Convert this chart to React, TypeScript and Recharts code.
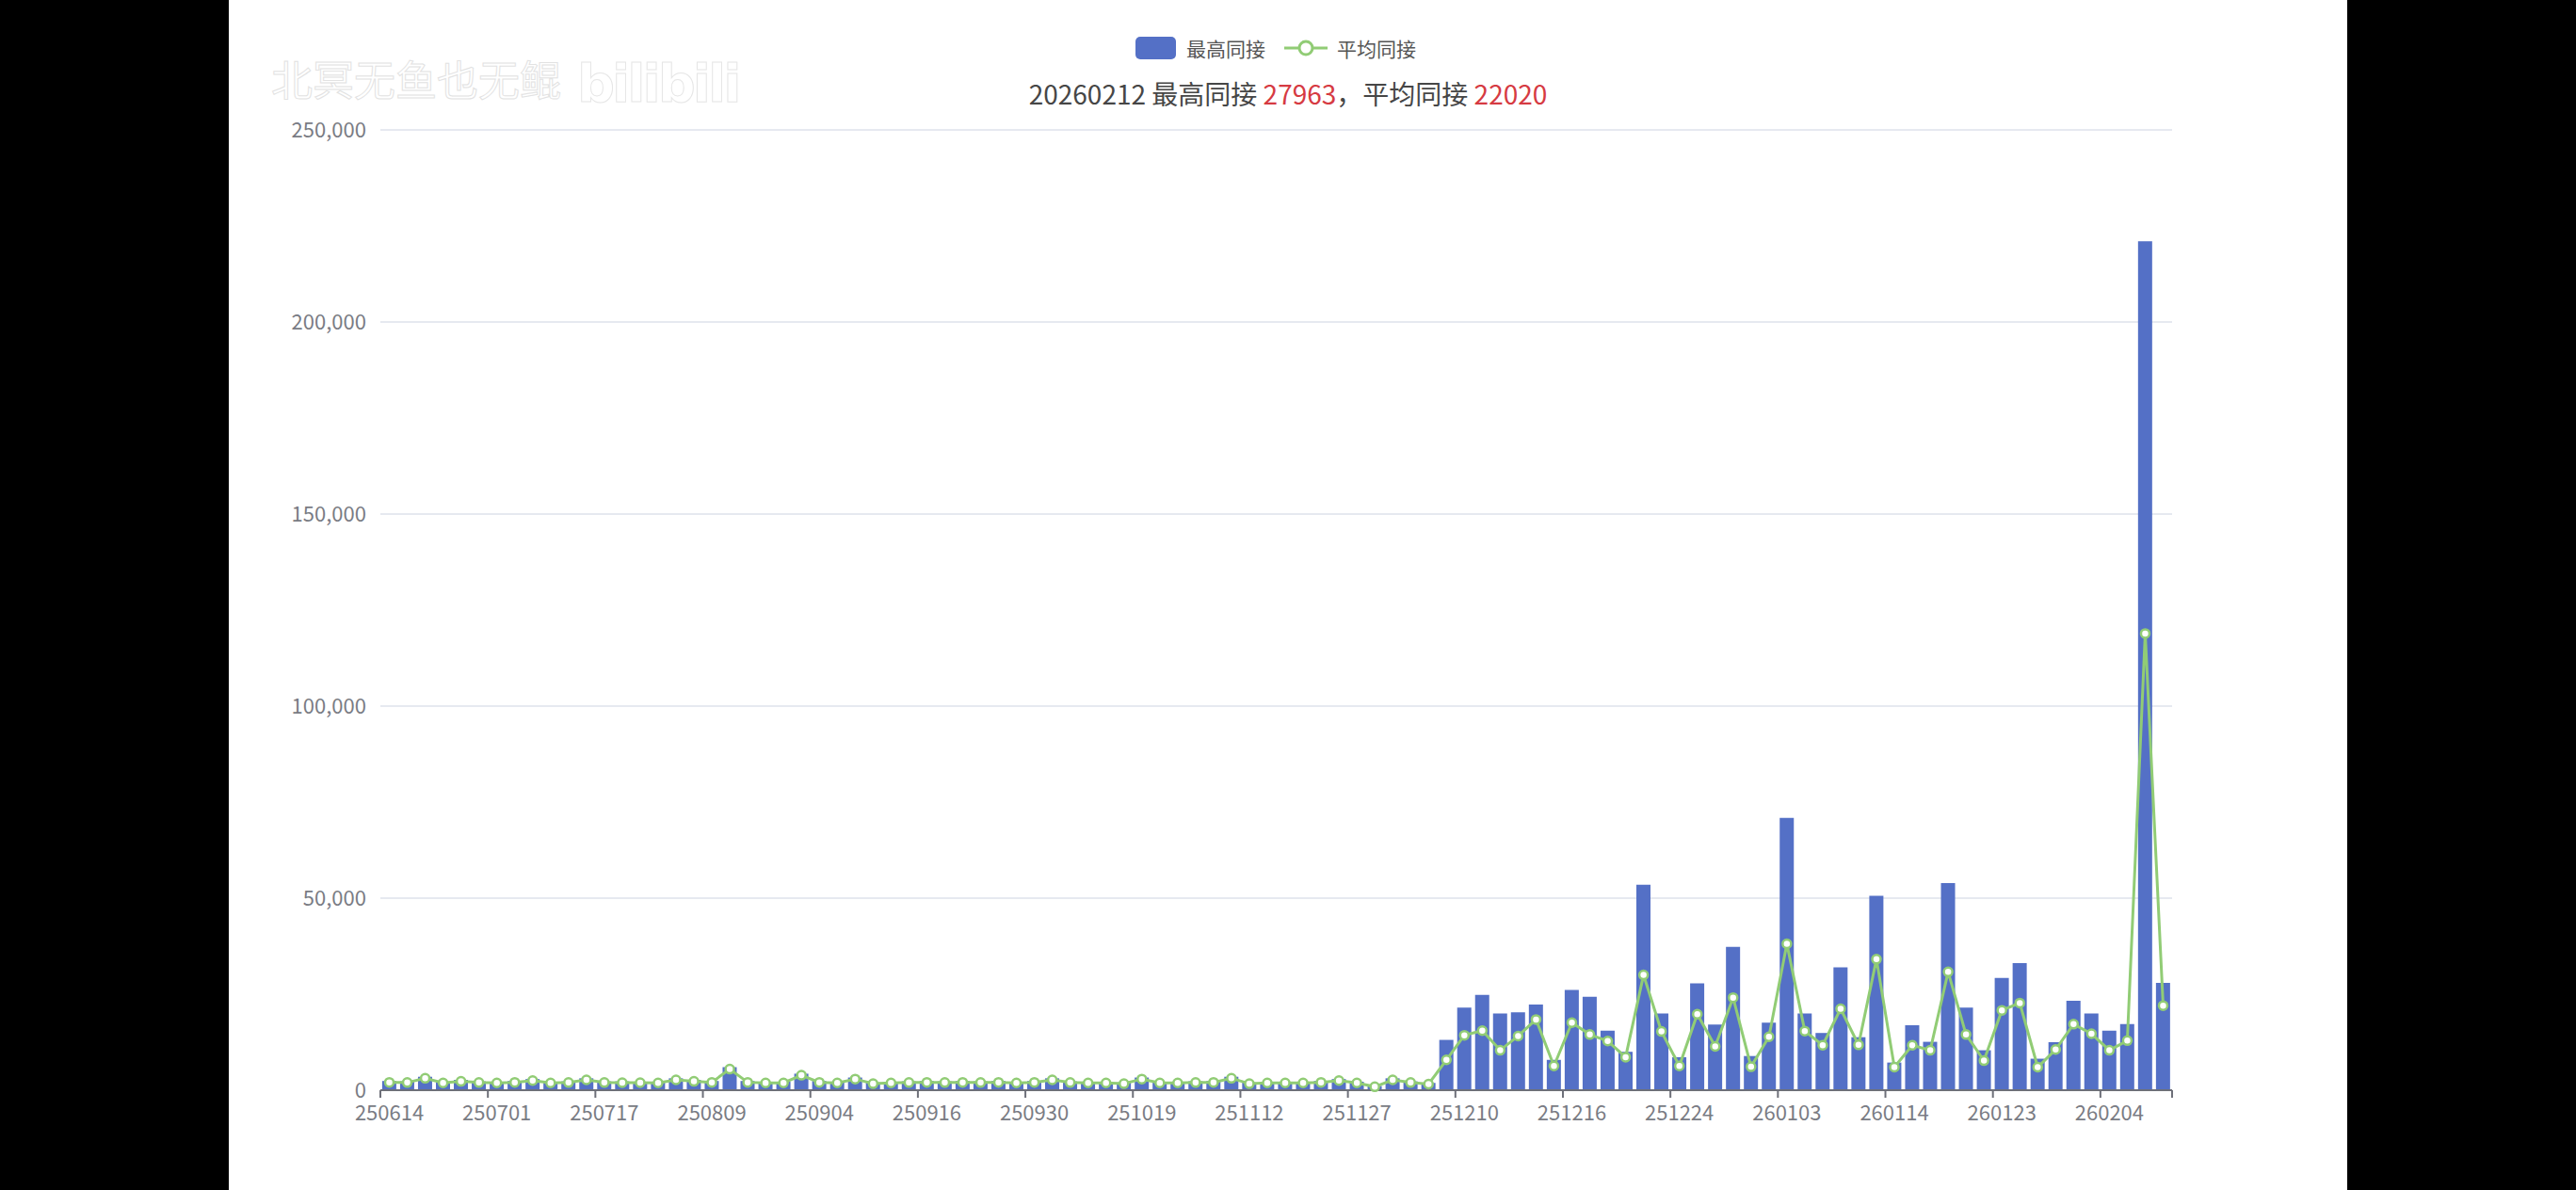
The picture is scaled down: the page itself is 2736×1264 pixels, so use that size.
import React from 'react';
import { ComposedChart, Bar, Line, XAxis, YAxis, CartesianGrid, Legend } from 'recharts';

// ---------------- data ----------------
const dates: string[] = [
  '250614', '250617', '250620', '250623', '250625', '250628',
  '250701', '250703', '250706', '250709', '250711', '250714',
  '250717', '250720', '250724', '250728', '250801', '250805',
  '250809', '250813', '250817', '250821', '250825', '250830',
  '250904', '250906', '250908', '250910', '250912', '250914',
  '250916', '250918', '250920', '250923', '250925', '250927',
  '250930', '251003', '251006', '251010', '251013', '251016',
  '251019', '251023', '251027', '251031', '251104', '251108',
  '251112', '251114', '251117', '251119', '251122', '251125',
  '251127', '251129', '251201', '251203', '251205', '251208',
  '251210', '251211', '251212', '251213', '251214', '251215',
  '251216', '251217', '251218', '251220', '251221', '251222',
  '251224', '251225', '251227', '251229', '251230', '251231',
  '260103', '260104', '260106', '260108', '260110', '260112',
  '260114', '260115', '260116', '260118', '260119', '260121',
  '260123', '260124', '260126', '260128', '260130', '260202',
  '260204', '260206', '260209', '260212',
];

const maxOnline: number[] = [
  2400, 2300, 3500, 2200, 2700, 2300,
  2200, 2400, 2900, 2200, 2300, 3100,
  2300, 2300, 2200, 2200, 3100, 2700,
  2400, 6000, 2400, 2200, 2200, 4300,
  2400, 2200, 3300, 2000, 2200, 2300,
  2400, 2300, 2400, 2300, 2400, 2200,
  2400, 3100, 2300, 2200, 2200, 2000,
  3300, 2200, 2200, 2300, 2400, 3500,
  2000, 2200, 2200, 2200, 2400, 2900,
  2200, 1100, 3100, 2300, 1900, 13100,
  21500, 24800, 20000, 20300, 22300, 7900,
  26100, 24300, 15500, 10000, 53500, 20000,
  8600, 27800, 17100, 37300, 8900, 17600,
  70900, 20000, 14900, 32000, 13800, 50600,
  7200, 16900, 12600, 53900, 21500, 10400,
  29200, 33100, 8200, 12500, 23300, 20000,
  15500, 17200, 221000, 27963,
];

const avgOnline: number[] = [
  2050, 2000, 3100, 1900, 2300, 2000,
  1900, 2050, 2500, 1900, 2000, 2700,
  2000, 1950, 1950, 1900, 2700, 2300,
  2050, 5500, 2050, 1900, 1900, 3900,
  2050, 1900, 2900, 1700, 1900, 2000,
  2050, 2000, 2050, 2000, 2050, 1900,
  2050, 2700, 2000, 1900, 1900, 1700,
  2900, 1900, 1900, 2000, 2050, 3100,
  1700, 1900, 1900, 1900, 2050, 2500,
  1900, 900, 2700, 2000, 1600, 7900,
  14300, 15500, 10400, 14100, 18400, 6300,
  17600, 14500, 12800, 8600, 30000, 15300,
  6300, 19800, 11400, 24100, 6100, 13900,
  38100, 15400, 11700, 21200, 11800, 34100,
  6000, 11700, 10400, 30800, 14500, 7700,
  20800, 22700, 6000, 10600, 17200, 14700,
  10400, 12900, 118900, 22020,
];

const yTicks: number[] = [0, 50000, 100000, 150000, 200000, 250000];
const seriesNames: string[] = ['最高同接', '平均同接'];
const watermarkText = '北冥无鱼也无鲲';
const watermarkLogo = 'bilibili';

const chartData = dates.map((d, i) => ({ date: d, max: maxOnline[i], avg: avgOnline[i] }));

// ---------------- style / layout ----------------
const BAR_COLOR = '#5470c6';
const LINE_COLOR = '#91cc75';
const AXIS_COLOR = '#6e7079';
const LABEL_COLOR = '#7a7c84';
const GRID_COLOR = '#e6e9f0';
const TITLE_COLOR = '#464646';
const RED = '#d63a42';
const FONT = "'Noto Sans CJK SC', 'Noto Sans', sans-serif";

const PANEL_LEFT = 243;
const PANEL_W = 2250;
const CHART_H = 1264;
const MARGIN = { top: 98, right: 186, bottom: 46, left: 61 };
const Y_AXIS_W = 100;
const X_AXIS_H = 60;
const PLOT_W = PANEL_W - MARGIN.left - MARGIN.right - Y_AXIS_W;
const PLOT_RIGHT = MARGIN.left + Y_AXIS_W + PLOT_W;
const BAND = PLOT_W / dates.length;
const LABEL_EVERY = 6;
const LAST_LABEL_INDEX = Math.floor((dates.length - 1) / LABEL_EVERY) * LABEL_EVERY;

const XTick = (props: any) => {
  const { x, y, payload } = props;
  const bx = x - BAND / 2;
  const isLast = payload && payload.value === dates[LAST_LABEL_INDEX];
  return (
    <g>
      <line x1={bx} x2={bx} y1={y} y2={y + 8} stroke={AXIS_COLOR} strokeWidth={2} />
      {isLast && (
        <line x1={PLOT_RIGHT} x2={PLOT_RIGHT} y1={y} y2={y + 8} stroke={AXIS_COLOR} strokeWidth={2} />
      )}
      <text x={x} y={y + 32} textAnchor="middle" fill={LABEL_COLOR} fontSize={22} fontFamily={FONT}>
        {payload.value}
      </text>
    </g>
  );
};

const LegendContent = () => (
  <div
    style={{
      height: 40,
      display: 'flex',
      alignItems: 'center',
      fontFamily: FONT,
      fontSize: 21,
      color: '#555555',
      whiteSpace: 'nowrap',
    }}
  >
    <div style={{ width: 43, height: 24, borderRadius: 5, background: BAR_COLOR, marginRight: 11 }} />
    <span>{seriesNames[0]}</span>
    <svg width={46} height={20} style={{ marginLeft: 20, marginRight: 10 }}>
      <line x1={0} x2={46} y1={10} y2={10} stroke={LINE_COLOR} strokeWidth={3} />
      <circle cx={23} cy={10} r={7} fill="#fff" stroke={LINE_COLOR} strokeWidth={3} />
    </svg>
    <span>{seriesNames[1]}</span>
  </div>
);

export default function App() {
  const last = dates.length - 1;
  return (
    <div
      style={{
        position: 'fixed',
        left: 0,
        top: 0,
        width: 2736,
        height: 1264,
        background: '#000',
        overflow: 'hidden',
        fontFamily: FONT,
      }}
    >
      <div
        style={{
          position: 'absolute',
          left: PANEL_LEFT,
          top: 0,
          width: PANEL_W,
          height: CHART_H,
          background: '#fff',
        }}
      >
        <ComposedChart width={PANEL_W} height={CHART_H} data={chartData} margin={MARGIN}>
          <CartesianGrid vertical={false} stroke={GRID_COLOR} strokeWidth={2} />
          <XAxis
            dataKey="date"
            interval={LABEL_EVERY - 1}
            height={X_AXIS_H}
            tickLine={false}
            tickSize={0}
            tickMargin={0}
            axisLine={{ stroke: AXIS_COLOR, strokeWidth: 2 }}
            tick={<XTick />}
          />
          <YAxis
            width={Y_AXIS_W}
            domain={[0, 250000]}
            ticks={yTicks}
            axisLine={false}
            tickLine={false}
            tickSize={0}
            tickMargin={15}
            tick={{ fill: LABEL_COLOR, fontSize: 22, fontFamily: FONT }}
            tickFormatter={(v: number) => v.toLocaleString('en-US')}
          />
          <Legend
            verticalAlign="top"
            content={() => <LegendContent />}
            wrapperStyle={{ top: 31, left: 963, width: 420 }}
          />
          <Bar
            dataKey="max"
            name={seriesNames[0]}
            fill={BAR_COLOR}
            barCategoryGap="16.6%"
            isAnimationActive={false}
          />
          <Line
            dataKey="avg"
            name={seriesNames[1]}
            type="linear"
            stroke={LINE_COLOR}
            strokeWidth={3}
            dot={{ r: 4.5, fill: '#ffffff', stroke: LINE_COLOR, strokeWidth: 2.5 }}
            activeDot={false}
            isAnimationActive={false}
          />
        </ComposedChart>

        {/* title */}
        <div
          style={{
            position: 'absolute',
            left: 0,
            top: 84,
            width: PANEL_W,
            textAlign: 'center',
            fontSize: 28,
            lineHeight: '30px',
            color: TITLE_COLOR,
            fontFamily: FONT,
            whiteSpace: 'nowrap',
          }}
        >
          {'20' + dates[last]} {seriesNames[0]} <span style={{ color: RED }}>{maxOnline[last]}</span>，{seriesNames[1]}{' '}
          <span style={{ color: RED }}>{avgOnline[last]}</span>
        </div>

        {/* watermark */}
        <svg
          width={600}
          height={90}
          style={{ position: 'absolute', left: 30, top: 40, pointerEvents: 'none' }}
        >
          <text
            x={15}
            y={62}
            fontSize={44}
            fontFamily={FONT}
            fill="#ffffff"
            stroke="#e2e2e2"
            strokeWidth={1}
          >
            {watermarkText}
          </text>
          <text
            x={340}
            y={68}
            fontSize={56}
            fontWeight={700}
            fontFamily="'DejaVu Sans', sans-serif"
            fill="#ffffff"
            stroke="#e6e6e6"
            strokeWidth={1}
            letterSpacing={-3}
          >
            {watermarkLogo}
          </text>
        </svg>
      </div>
    </div>
  );
}
